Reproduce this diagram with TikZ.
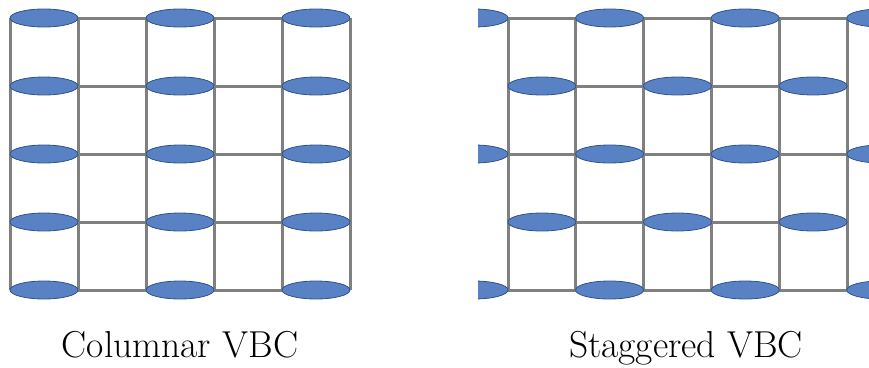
\documentclass[tikz,border=0pt]{standalone}
\usetikzlibrary{shapes.geometric}
\definecolor{gridgray}{RGB}{128,128,128}
\definecolor{cellfill}{RGB}{89,130,196}
\definecolor{celledge}{RGB}{47,82,143}
\tikzset{
  gridline/.style={draw=gridgray, line width=3pt},
  cell/.style={ellipse, fill=cellfill, draw=celledge, line width=0.8pt,
    minimum width=68pt, minimum height=18pt, inner sep=0pt},
  caption/.style={anchor=base, font=\fontsize{37.5}{42}\selectfont, inner sep=0pt}
}
\begin{document}
\begin{tikzpicture}[x=1pt, y=-1pt]
\useasboundingbox (0,0) rectangle (869,367);

% Columnar layout: cells stacked in aligned columns
\foreach \r in {0,...,4} {
  \draw[gridline] (10,18+68*\r) -- (350,18+68*\r);
}
\foreach \c in {0,...,5} {
  \draw[gridline] (10+68*\c,18) -- (10+68*\c,290);
}
\foreach \r in {0,...,4} {
  \foreach \c in {0,1,2} {
    \node[cell] (col-\r-\c) at (44+136*\c,18+68*\r) {};
  }
}
\node[caption] (colcap) at (180,357) {Columnar VBC};

% Staggered layout: alternate rows shifted by one cell
\begin{scope}
\clip (478,0) rectangle (869,367);
\foreach \r in {0,...,4} {
  \draw[gridline] (508,18+68*\r) -- (847,18+68*\r);
}
\foreach \c in {0,...,5} {
  \draw[gridline] (508+67.8*\c,18) -- (508+67.8*\c,290);
}
\foreach \r in {0,2,4} {
  \foreach \c in {0,...,3} {
    \node[cell] (stg-\r-\c) at (474+135.6*\c,18+68*\r) {};
  }
}
\foreach \r in {1,3} {
  \foreach \c in {0,1,2} {
    \node[cell] (stg-\r-\c) at (541.9+135.6*\c,18+68*\r) {};
  }
}
\end{scope}
\node[caption] (stgcap) at (686,357) {Staggered VBC};
\end{tikzpicture}
\end{document}
